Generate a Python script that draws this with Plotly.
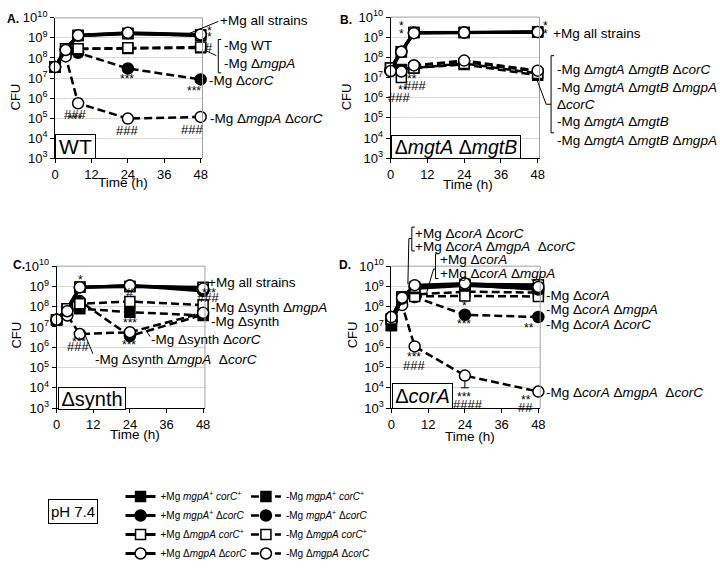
import plotly.graph_objects as go

W, H = 720, 568
FONT = "Arial, Liberation Sans, sans-serif"

# ---------------- data ----------------
times = [0, 3.5, 7.6, 24, 48]

# Panel A (WT background)
A_plus_sq = [3.5e7, 2.9e8, 1.3e9, 1.6e9, 1.4e9]
A_plus_fc = [3.5e7, 2.6e8, 1.3e9, 1.7e9, 1.3e9]
A_plus_os = [3.5e7, 2.9e8, 1.35e9, 1.7e9, 1.4e9]
A_plus_oc = [3.5e7, 2.5e8, 1.35e9, 1.8e9, 1.5e9]
A_minus_sq = [3.5e7, 2.9e8, 2.8e8, 3.0e8, 3.2e8]
A_minus_fc = [3.5e7, 1.5e8, 1.8e8, 3.0e7, 8.5e6]
A_minus_os = [3.5e7, 2.9e8, 2.9e8, 3.2e8, 3.5e8]
A_minus_oc = [3.5e7, 1.2e8, 5.5e5, 9.5e4, 1.15e5]

# Panel B (mgtA mgtB background)
B_plus_sq = [3.1e7, 1.9e8, 1.7e9, 1.7e9, 1.8e9]
B_plus_fc = [2.5e7, 1.9e8, 1.7e9, 1.7e9, 1.8e9]
B_plus_os = [3.0e7, 1.9e8, 1.7e9, 1.7e9, 1.8e9]
B_plus_oc = [2.1e7, 1.9e8, 1.6e9, 1.7e9, 1.8e9]
B_minus_sq = [3.1e7, 2.5e7, 3.0e7, 4.5e7, 1.3e7]
B_minus_fc = [2.5e7, 2.0e7, 4.0e7, 6.0e7, 2.0e7]
B_minus_os = [3.0e7, 1.0e7, 3.0e7, 5.0e7, 1.6e7]
B_minus_oc = [2.1e7, 2.0e7, 4.0e7, 7.0e7, 2.2e7]

# Panel C (synth background)
C_plus_sq = [2.3e7, 8.0e7, 9.0e8, 1.0e9, 8.5e8]
C_plus_fc = [2.3e7, 7.0e7, 9.0e8, 1.1e9, 6.0e8]
C_plus_os = [2.3e7, 8.0e7, 9.5e8, 1.0e9, 9.0e8]
C_plus_oc = [2.3e7, 6.0e7, 9.0e8, 1.1e9, 8.0e8]
C_minus_sq = [2.3e7, 8.0e7, 8.0e7, 5.4e7, 3.7e7]
C_minus_fc = [2.3e7, 7.0e7, 1.9e8, 3.6e6, 4.0e7]
C_minus_os = [2.3e7, 8.0e7, 1.4e8, 1.8e8, 1.2e8]
C_minus_oc = [2.3e7, 3.7e7, 4.5e6, 5.5e6, 5.0e7]

# Panel D (corA background)
D_plus_sq = [1.2e7, 2.9e8, 8.0e8, 1.1e9, 8.0e8]
D_plus_fc = [2.0e7, 2.5e8, 9.0e8, 1.2e9, 7.0e8]
D_plus_os = [2.5e7, 3.0e8, 9.0e8, 1.3e9, 1.2e9]
D_plus_oc = [3.1e7, 2.8e8, 1.15e9, 1.4e9, 9.5e8]
D_minus_sq = [1.2e7, 2.9e8, 4.0e8, 5.5e8, 5.0e8]
D_minus_fc = [2.0e7, 2.5e8, 3.0e8, 4.0e7, 3.1e7]
D_minus_os = [2.5e7, 2.9e8, 3.2e8, 3.4e8, 3.2e8]
D_minus_oc = [3.1e7, 1.2e8, 1.1e6, 4.0e4, 6.5e3]
D_minus_oc_err = [0, 0, 0, 3.0e4, 0]

x_ticks = [0, 12, 24, 36, 48]
y_exps = [3, 4, 5, 6, 7, 8, 9, 10]

legend_plus = ["+Mg <i>mgpA</i><sup>+</sup> <i>corC</i><sup>+</sup>",
               "+Mg <i>mgpA</i><sup>+</sup> Δ<i>corC</i>",
               "+Mg Δ<i>mgpA</i> <i>corC</i><sup>+</sup>",
               "+Mg Δ<i>mgpA</i> Δ<i>corC</i>"]
legend_minus = ["-Mg <i>mgpA</i><sup>+</sup> <i>corC</i><sup>+</sup>",
                "-Mg <i>mgpA</i><sup>+</sup> Δ<i>corC</i>",
                "-Mg Δ<i>mgpA</i> <i>corC</i><sup>+</sup>",
                "-Mg Δ<i>mgpA</i> Δ<i>corC</i>"]

# ---------------- styles ----------------
MARKERS = [
    dict(symbol="square", color="black", size=10, line=dict(color="black", width=1.5)),
    dict(symbol="circle", color="black", size=11, line=dict(color="black", width=1.5)),
    dict(symbol="square", color="white", size=10, line=dict(color="black", width=1.5)),
    dict(symbol="circle", color="white", size=11, line=dict(color="black", width=1.5)),
]

fig = go.Figure()

panels = [
    ("x", "y", [A_plus_sq, A_plus_fc, A_plus_os, A_plus_oc], [A_minus_sq, A_minus_fc, A_minus_os, A_minus_oc]),
    ("x2", "y2", [B_plus_sq, B_plus_fc, B_plus_os, B_plus_oc], [B_minus_sq, B_minus_fc, B_minus_os, B_minus_oc]),
    ("x3", "y3", [C_plus_sq, C_plus_fc, C_plus_os, C_plus_oc], [C_minus_sq, C_minus_fc, C_minus_os, C_minus_oc]),
    ("x4", "y4", [D_plus_sq, D_plus_fc, D_plus_os, D_plus_oc], [D_minus_sq, D_minus_fc, D_minus_os, D_minus_oc]),
]

for pi, (xa, ya, plus, minus) in enumerate(panels):
    for k, ys in enumerate(minus):
        err = None
        if pi == 3 and k == 3:
            err = dict(type="data", symmetric=False, array=[0] * len(ys), arrayminus=D_minus_oc_err,
                       color="black", thickness=1, width=4)
        fig.add_trace(go.Scatter(
            x=times, y=ys, xaxis=xa, yaxis=ya, mode="lines+markers",
            line=dict(color="black", width=2.5, dash="8px,4px"),
            marker=MARKERS[k], error_y=err, cliponaxis=False,
            name=legend_minus[k], showlegend=(pi == 0), legend="legend2"))
    for k, ys in enumerate(plus):
        fig.add_trace(go.Scatter(
            x=times, y=ys, xaxis=xa, yaxis=ya, mode="lines+markers",
            line=dict(color="black", width=3),
            marker=MARKERS[k], cliponaxis=False,
            name=legend_plus[k], showlegend=(pi == 0), legend="legend"))


def px(x):
    return x / W


def py(y):
    return 1 - y / H


doms = {
    "A": ([51.7, 201.0], [9.3, 156.7]),
    "B": ([391.5, 542.3], [8.5, 156.7]),
    "C": ([53.3, 203.5], [270.0, 419.0]),
    "D": ([392.3, 543.0], [270.0, 419.0]),
}


def xax(d, anchor):
    return dict(domain=[px(d[0]), px(d[1])], anchor=anchor, range=[0, 48.6],
                tickvals=x_ticks, ticks="outside", ticklen=4, tickcolor="black",
                showline=True, linecolor="black", linewidth=1, showgrid=False, zeroline=False,
                tickfont=dict(size=13, family=FONT, color="black"))


def yax(d, anchor):
    return dict(type="log", domain=[py(d[1]), py(d[0])], anchor=anchor, range=[3, 10],
                tickvals=[10 ** e for e in y_exps], ticktext=[f"10<sup>{e}</sup>" for e in y_exps],
                ticks="outside", ticklen=4, tickcolor="black",
                showline=True, linecolor="black", linewidth=1,
                showgrid=True, gridcolor="#d9d9d9", gridwidth=1, zeroline=False,
                tickfont=dict(size=13, family=FONT, color="black"))


layout_axes = {}
for i, key in enumerate(["A", "B", "C", "D"]):
    sfx = "" if i == 0 else str(i + 1)
    d = doms[key]
    layout_axes["xaxis" + sfx] = xax(d[0], "y" + sfx)
    layout_axes["yaxis" + sfx] = yax(d[1], "x" + sfx)

shapes = []
# gray frame (top/right)
for i in range(4):
    sfx = "" if i == 0 else str(i + 1)
    xr, yr = "x" + sfx + " domain", "y" + sfx + " domain"
    shapes.append(dict(type="line", xref=xr, yref=yr, x0=0, x1=1, y0=1, y1=1,
                       line=dict(color="#a0a0a0", width=1)))
    shapes.append(dict(type="line", xref=xr, yref=yr, x0=1, x1=1, y0=0, y1=1,
                       line=dict(color="#a0a0a0", width=1)))


def seg(x0, y0, x1, y1, w=1):
    shapes.append(dict(type="line", xref="paper", yref="paper",
                       x0=px(x0), y0=py(y0), x1=px(x1), y1=py(y1),
                       line=dict(color="black", width=w)))


def bracket(x, y0, y1, lip=3):
    seg(x, y0, x, y1)
    seg(x, y0, x + lip, y0)
    seg(x, y1, x + lip, y1)


annotations = []


def ann(text, x, y, size=13.5, xanchor="left", bold=False, angle=0):
    if bold:
        text = "<b>" + text + "</b>"
    annotations.append(dict(xref="paper", yref="paper", x=px(x), y=py(y), text=text,
                            showarrow=False, xanchor=xanchor, yanchor="middle",
                            textangle=angle, borderpad=0,
                            font=dict(size=size, family=FONT, color="black")))


def box(text, cx, cy, w, h, size=20):
    annotations.append(dict(xref="paper", yref="paper", x=px(cx), y=py(cy), text=text,
                            showarrow=False, xanchor="center", yanchor="middle",
                            width=w - 2, height=h - 2, borderpad=0, borderwidth=1,
                            bordercolor="black", bgcolor="white", align="center", valign="middle",
                            font=dict(size=size, family=FONT, color="black")))


def star(text, x, y, size=12):
    ann(text, x, y + 3, size=size, xanchor="center")


def hsh(text, x, y, size=13):
    ann(text, x, y, size=size, xanchor="center")


# panel letters, axis titles
ann("A.", 2, 11, size=12, bold=True)
ann("B.", 339, 12, size=12, bold=True)
ann("C.", 8, 269, size=12, bold=True)
ann("D.", 338, 269, size=12, bold=True)
for (x, y) in [(12, 92), (347, 92), (13, 342), (353, 342)]:
    ann("CFU", x, y, size=13, xanchor="center", angle=-90)
for (x, y) in [(120, 182), (470, 184), (133, 447), (472, 449)]:
    ann("Time (h)", x, y, size=13.5, xanchor="center")

# ---- Panel A annotations ----
ann("+Mg all strains", 218, 12)
seg(187, 26, 217, 13)
star("*", 208, 20)
star("*", 208, 26)
hsh("#", 208, 40)
bracket(217, 32, 67)
seg(203, 43, 215, 49)
ann("-Mg WT", 222, 38)
ann("-Mg Δ<i>mgpA</i>", 222, 57)
ann("-Mg Δ<i>corC</i>", 207, 75)
ann("-Mg Δ<i>mgpA</i> Δ<i>corC</i>", 208, 115)
star("***", 125, 71)
star("***", 192, 83)
hsh("###", 72, 111)
star("***", 72, 112)
hsh("###", 125, 128)
hsh("###", 190, 127)
box("WT", 72.5, 144.5, 41, 25, size=21)

# ---- Panel B annotations ----
star("*", 403, 15)
star("*", 403, 23)
star("*", 548, 15)
star("*", 548, 23)
ann("+Mg all strains", 555, 26)
bracket(554, 49, 130)
seg(540, 75, 549, 100)
seg(549, 100, 554, 100)
ann("-Mg Δ<i>mgtA</i> Δ<i>mgtB</i> Δ<i>corC</i>", 559, 63)
ann("-Mg Δ<i>mgtA</i> Δ<i>mgtB</i> Δ<i>mgpA</i>", 559, 82)
ann("Δ<i>corC</i>", 559, 100)
ann("-Mg Δ<i>mgtA</i> Δ<i>mgtB</i>", 559, 118)
ann("-Mg Δ<i>mgtA</i> Δ<i>mgtB</i> Δ<i>mgpA</i>", 559, 138)
star("**", 413, 70)
hsh("###", 416, 80)
star("**", 404, 82)
hsh("###", 400, 93)
box("Δ<i>mgtA</i> Δ<i>mgtB</i>", 458, 145, 130, 24, size=19.5)

# ---- Panel C annotations ----
star("*", 77, 281)
ann("+Mg all strains", 206, 287)
hsh("#", 128, 298)
star("***", 208, 295)
hsh("###", 207, 303)
ann("-Mg Δsynth Δ<i>mgpA</i>", 209, 313)
ann("-Mg Δsynth", 209, 328)
star("***", 128, 327)
ann("-Mg Δsynth Δ<i>corC</i>", 148, 347)
seg(143, 336, 148, 344)
star("***", 127, 350)
star("***", 76, 347)
hsh("###", 75, 354)
ann("-Mg Δsynth Δ<i>mgpA</i>  Δ<i>corC</i>", 91, 368)
seg(80, 337, 90, 362)
box("Δsynth", 89, 408.5, 68, 23, size=20)

# ---- Panel D annotations ----
ann("+Mg Δ<i>corA</i> Δ<i>corC</i>", 415, 236)
ann("+Mg Δ<i>corA</i> Δ<i>mgpA</i>  Δ<i>corC</i>", 415, 249)
bracket(413, 229, 254)
seg(409, 289, 410, 241)
seg(410, 241, 413, 241)
ann("+Mg Δ<i>corA</i>", 440, 263)
ann("+Mg Δ<i>corA</i> Δ<i>mgpA</i>", 440, 278)
bracket(437, 257, 283)
seg(428, 298, 435, 273)
seg(435, 273, 437, 273)
ann("-Mg Δ<i>corA</i>", 548, 301)
ann("-Mg Δ<i>corA</i> Δ<i>mgpA</i>", 548, 316)
ann("-Mg Δ<i>corA</i> Δ<i>corC</i>", 548, 331)
ann("-Mg Δ<i>corA</i> Δ<i>mgpA</i>  Δ<i>corC</i>", 548, 403)
star("*", 466, 309)
star("***", 466, 328)
star("**", 532, 332)
star("***", 415, 362)
hsh("###", 415, 374)
star("***", 466, 404)
hsh("####", 470, 415)
star("**", 529, 407)
hsh("##", 528, 418)
box("Δ<i>corA</i>", 423.5, 406, 61, 26, size=20)

# ---- pH box ----
box("pH 7.4", 70, 527.5, 50, 25, size=15)

fig.update_layout(
    width=W, height=H, autosize=False,
    margin=dict(l=0, r=0, t=0, b=0),
    paper_bgcolor="white", plot_bgcolor="white",
    font=dict(family=FONT, color="black"),
    shapes=shapes, annotations=annotations,
    legend=dict(x=px(118), y=py(497), xanchor="left", yanchor="top",
                font=dict(size=10, family=FONT, color="black"), bgcolor="rgba(0,0,0,0)",
                tracegroupgap=0, itemwidth=30),
    legend2=dict(x=px(245), y=py(497), xanchor="left", yanchor="top",
                 font=dict(size=10, family=FONT, color="black"), bgcolor="rgba(0,0,0,0)",
                 tracegroupgap=0, itemwidth=30),
    **layout_axes,
)

fig.write_html("out.html", config={"displayModeBar": False},
               post_script="document.body.style.margin='0';")
